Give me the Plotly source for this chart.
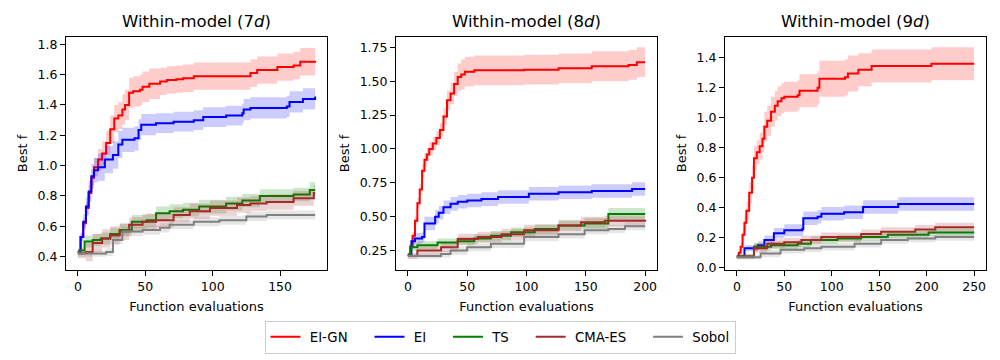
import plotly.graph_objects as go

methods = ["EI-GN", "EI", "TS", "CMA-ES", "Sobol"]
colors = ["red", "blue", "green", "brown", "gray"]
fills = ["rgba(255,0,0,0.2)", "rgba(0,0,255,0.2)", "rgba(0,128,0,0.2)",
         "rgba(165,42,42,0.2)", "rgba(128,128,128,0.2)"]
titles = ["Within-model (7<i>d</i>)", "Within-model (8<i>d</i>)", "Within-model (9<i>d</i>)"]

# ---- 7d panel: x = evaluation where the best value changes, m = mean, e = band half-width
x7_eign = [0, 2, 4, 6, 8, 10, 12, 15, 18, 21, 24, 27, 30, 33, 35, 38, 41, 46, 48, 53, 61, 66, 73, 78, 86, 128, 133, 148, 160, 165, 176]
m7_eign = [0.43, 0.53, 0.62, 0.72, 0.82, 0.92, 0.99, 1.04, 1.08, 1.15, 1.24, 1.31, 1.33, 1.37, 1.40, 1.48, 1.49, 1.50, 1.52, 1.54, 1.555, 1.565, 1.57, 1.576, 1.59, 1.61, 1.63, 1.65, 1.66, 1.685, 1.69]
e7_eign = [0.01, 0.02, 0.03, 0.04, 0.05, 0.05, 0.06, 0.07, 0.08, 0.08, 0.09, 0.09, 0.09, 0.1, 0.1, 0.1, 0.1, 0.1, 0.1, 0.1, 0.09, 0.09, 0.09, 0.09, 0.09, 0.09, 0.09, 0.09, 0.09, 0.09, 0.09]

x7_ei = [0, 2, 4, 6, 8, 10, 12, 15, 20, 26, 30, 33, 42, 45, 47, 58, 71, 86, 93, 110, 122, 123, 128, 155, 157, 167, 176]
m7_ei = [0.43, 0.53, 0.63, 0.73, 0.83, 0.93, 0.97, 0.99, 1.04, 1.07, 1.14, 1.17, 1.18, 1.235, 1.27, 1.28, 1.29, 1.30, 1.32, 1.33, 1.345, 1.37, 1.38, 1.39, 1.42, 1.44, 1.455]
e7_ei = [0.01, 0.03, 0.05, 0.06, 0.07, 0.08, 0.08, 0.09, 0.09, 0.09, 0.09, 0.08, 0.08, 0.07, 0.07, 0.065, 0.065, 0.065, 0.065, 0.065, 0.065, 0.07, 0.07, 0.07, 0.07, 0.07, 0.07]

x7_ts = [0, 1, 5, 11, 17, 24, 31, 40, 51, 58, 68, 78, 90, 110, 122, 135, 160, 172, 176]
m7_ts = [0.43, 0.44, 0.50, 0.51, 0.52, 0.55, 0.575, 0.63, 0.64, 0.686, 0.70, 0.71, 0.73, 0.75, 0.77, 0.80, 0.81, 0.84, 0.84]
e7_ts = [0.01, 0.02, 0.04, 0.04, 0.04, 0.04, 0.04, 0.045, 0.045, 0.045, 0.045, 0.045, 0.045, 0.045, 0.045, 0.045, 0.045, 0.05, 0.05]

x7_cma = [0, 6, 11, 18, 24, 31, 38, 48, 58, 71, 83, 98, 118, 128, 140, 160, 175, 176]
m7_cma = [0.42, 0.43, 0.49, 0.52, 0.54, 0.565, 0.61, 0.63, 0.64, 0.675, 0.70, 0.72, 0.74, 0.75, 0.76, 0.785, 0.82, 0.82]
e7_cma = [0.03, 0.06, 0.06, 0.06, 0.06, 0.055, 0.05, 0.05, 0.05, 0.05, 0.05, 0.05, 0.05, 0.05, 0.05, 0.05, 0.05, 0.05]

x7_sobol = [0, 21, 26, 33, 48, 61, 68, 86, 105, 125, 140, 176]
m7_sobol = [0.42, 0.43, 0.51, 0.565, 0.575, 0.59, 0.61, 0.63, 0.64, 0.665, 0.675, 0.675]
e7_sobol = [0.02, 0.025, 0.03, 0.03, 0.03, 0.03, 0.03, 0.03, 0.03, 0.03, 0.03, 0.03]

# ---- 8d panel
x8_eign = [0, 2, 4, 6, 8, 10, 12, 14, 16, 18, 21, 24, 27, 30, 33, 36, 39, 42, 45, 48, 56, 98, 127, 155, 186, 193, 200]
m8_eign = [0.22, 0.28, 0.36, 0.47, 0.60, 0.70, 0.84, 0.92, 0.96, 1.00, 1.04, 1.08, 1.14, 1.24, 1.36, 1.41, 1.48, 1.53, 1.55, 1.57, 1.58, 1.585, 1.595, 1.61, 1.62, 1.64, 1.64]
e8_eign = [0.01, 0.02, 0.03, 0.03, 0.04, 0.04, 0.05, 0.05, 0.05, 0.05, 0.05, 0.05, 0.05, 0.06, 0.07, 0.08, 0.09, 0.1, 0.11, 0.11, 0.11, 0.11, 0.11, 0.11, 0.11, 0.11, 0.11]

x8_ei = [0, 3, 6, 12, 14, 18, 23, 26, 30, 36, 42, 50, 62, 76, 102, 127, 155, 189, 200]
m8_ei = [0.22, 0.32, 0.34, 0.35, 0.45, 0.45, 0.50, 0.53, 0.57, 0.595, 0.61, 0.62, 0.63, 0.645, 0.67, 0.68, 0.69, 0.705, 0.705]
e8_ei = [0.01, 0.03, 0.04, 0.04, 0.05, 0.05, 0.05, 0.05, 0.05, 0.05, 0.05, 0.05, 0.05, 0.05, 0.05, 0.05, 0.05, 0.05, 0.05]

x8_ts = [0, 2, 8, 25, 42, 56, 70, 87, 107, 127, 149, 169, 200]
m8_ts = [0.22, 0.275, 0.29, 0.31, 0.32, 0.34, 0.36, 0.385, 0.41, 0.435, 0.45, 0.52, 0.52]
e8_ts = [0.01, 0.03, 0.03, 0.03, 0.03, 0.03, 0.035, 0.035, 0.035, 0.035, 0.04, 0.045, 0.045]

x8_cma = [0, 8, 28, 42, 59, 79, 98, 127, 146, 166, 200]
m8_cma = [0.21, 0.25, 0.275, 0.335, 0.35, 0.37, 0.40, 0.435, 0.46, 0.47, 0.477]
e8_cma = [0.02, 0.03, 0.035, 0.04, 0.04, 0.04, 0.04, 0.04, 0.04, 0.04, 0.04]

x8_sobol = [0, 28, 36, 50, 70, 98, 127, 149, 169, 183, 200]
m8_sobol = [0.21, 0.225, 0.25, 0.275, 0.30, 0.35, 0.37, 0.40, 0.41, 0.43, 0.43]
e8_sobol = [0.02, 0.025, 0.03, 0.03, 0.03, 0.03, 0.03, 0.03, 0.03, 0.03, 0.03]

# ---- 9d panel
x9_eign = [0, 2, 4, 6, 8, 10, 13, 16, 18, 21, 24, 27, 29, 32, 36, 40, 43, 47, 50, 64, 66, 85, 87, 114, 117, 128, 142, 205, 250]
m9_eign = [0.073, 0.10, 0.14, 0.22, 0.30, 0.38, 0.50, 0.60, 0.73, 0.77, 0.81, 0.86, 0.94, 0.98, 1.04, 1.08, 1.11, 1.13, 1.14, 1.15, 1.18, 1.20, 1.26, 1.27, 1.295, 1.32, 1.345, 1.36, 1.36]
e9_eign = [0.01, 0.02, 0.03, 0.04, 0.05, 0.06, 0.07, 0.08, 0.08, 0.08, 0.09, 0.09, 0.1, 0.1, 0.1, 0.1, 0.1, 0.1, 0.1, 0.1, 0.11, 0.11, 0.12, 0.12, 0.12, 0.11, 0.11, 0.11, 0.11]

x9_ei = [0, 8, 22, 29, 39, 50, 69, 70, 85, 89, 113, 133, 170, 250]
m9_ei = [0.075, 0.13, 0.15, 0.185, 0.23, 0.25, 0.258, 0.33, 0.34, 0.36, 0.37, 0.405, 0.425, 0.425]
e9_ei = [0.01, 0.02, 0.025, 0.03, 0.035, 0.04, 0.04, 0.045, 0.045, 0.045, 0.045, 0.045, 0.045, 0.045]

x9_ts = [0, 18, 36, 64, 78, 106, 131, 159, 202, 250]
m9_ts = [0.075, 0.14, 0.15, 0.16, 0.185, 0.195, 0.205, 0.22, 0.235, 0.235]
e9_ts = [0.015, 0.025, 0.025, 0.025, 0.025, 0.025, 0.025, 0.025, 0.025, 0.025]

x9_cma = [0, 18, 32, 50, 68, 89, 131, 152, 188, 209, 250]
m9_cma = [0.075, 0.13, 0.16, 0.17, 0.185, 0.205, 0.225, 0.24, 0.255, 0.27, 0.27]
e9_cma = [0.015, 0.03, 0.03, 0.03, 0.03, 0.03, 0.03, 0.03, 0.03, 0.03, 0.03]

x9_sobol = [0, 25, 46, 71, 89, 124, 152, 180, 209, 250]
m9_sobol = [0.07, 0.095, 0.12, 0.13, 0.14, 0.16, 0.185, 0.195, 0.205, 0.205]
e9_sobol = [0.015, 0.025, 0.025, 0.025, 0.025, 0.025, 0.025, 0.025, 0.025, 0.025]

panels = [
    [(x7_eign, m7_eign, e7_eign), (x7_ei, m7_ei, e7_ei), (x7_ts, m7_ts, e7_ts),
     (x7_cma, m7_cma, e7_cma), (x7_sobol, m7_sobol, e7_sobol)],
    [(x8_eign, m8_eign, e8_eign), (x8_ei, m8_ei, e8_ei), (x8_ts, m8_ts, e8_ts),
     (x8_cma, m8_cma, e8_cma), (x8_sobol, m8_sobol, e8_sobol)],
    [(x9_eign, m9_eign, e9_eign), (x9_ei, m9_ei, e9_ei), (x9_ts, m9_ts, e9_ts),
     (x9_cma, m9_cma, e9_cma), (x9_sobol, m9_sobol, e9_sobol)],
]

# page has an 8px body margin, so convert window pixels to paper fractions
W, H, OFF = 1000, 360, 8
def px(v):
    return (v - OFF) / W
def py(v):
    return 1 - (v - OFF) / H

xdomains = [[px(66), px(327)], [px(396), px(657)], [px(725), px(986)]]
ydomain = [py(270), py(37)]
xranges = [[-8.8, 184.8], [-10, 210], [-12.5, 262.5]]
yranges = [[0.312, 1.848], [0.107, 1.826], [-0.015, 1.538]]
ydticks = [0.2, 0.25, 0.2]
yformats = [".1f", ".2f", ".1f"]

NB = "\u00a0"
font = "DejaVu Sans"
fig = go.Figure()

for p in range(3):
    xa = "x" if p == 0 else "x%d" % (p + 1)
    ya = "y" if p == 0 else "y%d" % (p + 1)
    for i in range(5):
        x, m, e = panels[p][i]
        lo = [a - b for a, b in zip(m, e)]
        hi = [a + b for a, b in zip(m, e)]
        label = NB + methods[i] + (NB * 4 if i < 4 else "")
        fig.add_trace(go.Scatter(x=x, y=m, mode="lines", name=label,
                                 line=dict(color=colors[i], width=2, shape="hv"),
                                 xaxis=xa, yaxis=ya, showlegend=(p == 0)))
        fig.add_trace(go.Scatter(x=x, y=lo, mode="lines", line=dict(width=0, shape="hv"),
                                 xaxis=xa, yaxis=ya, showlegend=False, hoverinfo="skip"))
        fig.add_trace(go.Scatter(x=x, y=hi, mode="lines", line=dict(width=0, shape="hv"),
                                 fill="tonexty", fillcolor=fills[i],
                                 xaxis=xa, yaxis=ya, showlegend=False, hoverinfo="skip"))

layout = dict(
    width=W, height=H,
    margin=dict(l=0, r=0, t=0, b=0),
    paper_bgcolor="white", plot_bgcolor="white",
    font=dict(family=font, size=13, color="black"),
    legend=dict(orientation="h", x=px(500), xanchor="center", y=py(337), yanchor="middle",
                traceorder="normal", bordercolor="#cccccc", borderwidth=1,
                font=dict(size=13.3), itemwidth=30),
    annotations=[],
)
for p in range(3):
    sx = "" if p == 0 else str(p + 1)
    layout["xaxis" + sx] = dict(
        domain=xdomains[p], range=xranges[p], anchor="y" + sx, dtick=50,
        showgrid=False, zeroline=False, showline=True, mirror=True, linecolor="black",
        ticks="outside", ticklen=5, tickcolor="black", tickfont=dict(size=12.5),
        automargin=False,
        title=dict(text="Function evaluations", standoff=8, font=dict(size=13)))
    layout["yaxis" + sx] = dict(
        domain=ydomain, range=yranges[p], anchor="x" + sx,
        dtick=ydticks[p], tickformat=yformats[p],
        showgrid=False, zeroline=False, showline=True, mirror=True, linecolor="black",
        ticks="outside", ticklen=5, tickcolor="black", tickfont=dict(size=12.5),
        automargin=False,
        title=dict(text="Best f", standoff=7, font=dict(size=13)))
    layout["annotations"].append(dict(
        text=titles[p], x=sum(xdomains[p]) / 2, y=py(22), xref="paper", yref="paper",
        xanchor="center", yanchor="middle", showarrow=False, font=dict(size=16.5)))

fig.update_layout(**layout)
fig.write_html("out.html")
